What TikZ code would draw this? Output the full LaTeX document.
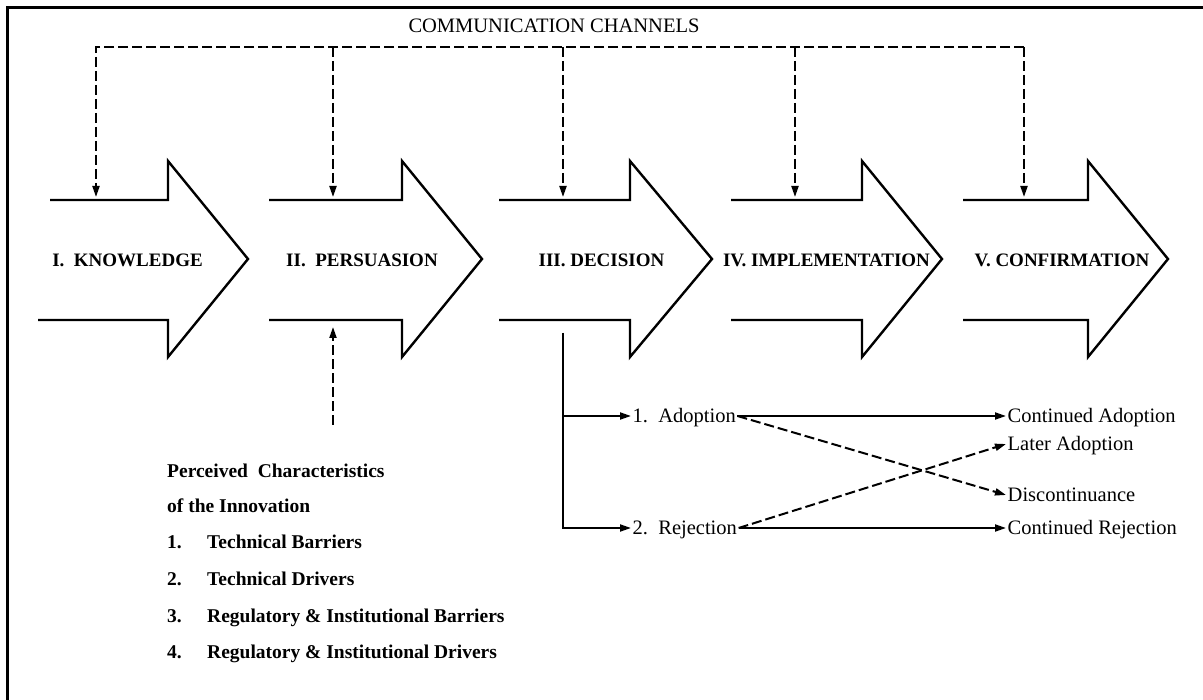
\documentclass[tikz,border=0pt]{standalone}
\usepackage{fontspec}
\setmainfont{Liberation Serif}
\usetikzlibrary{arrows.meta}
\begin{document}
\begin{tikzpicture}[x=1pt,y=-1pt,
  stage/.style={draw=black,line width=2.4pt,line join=miter},
  stagelbl/.style={font=\fontsize{19}{21}\selectfont\bfseries,inner sep=0pt,anchor=base},
  tip/.style={-{Triangle[length=11pt,width=7pt]}},
  chan/.style={line width=2pt,dash pattern=on 10pt off 4pt},
  solidcon/.style={line width=2pt,tip},
  dashcon/.style={line width=2pt,dash pattern=on 10pt off 4pt,tip},
  outc/.style={font=\fontsize{20.5}{22}\selectfont,text height=14pt,text depth=0pt,inner sep=1.5pt,anchor=west},
  listtxt/.style={font=\fontsize{19.5}{22}\selectfont\bfseries,inner sep=0pt,anchor=base west},
]
\useasboundingbox (0,0) rectangle (1203,700);
% frame
\draw[line width=3pt] (7.5,700) -- (7.5,7.5) -- (1203,7.5);

% title
\node[font=\fontsize{20.5}{22}\selectfont,inner sep=0pt,anchor=base] (title) at (554,33) {COMMUNICATION CHANNELS};

% stage arrows
\foreach \s/\sb/\b/\t/\n/\cx in {50/38/168/248/1/96, 269/269/402/482/2/333, 499/499/630/712/3/563, 731/731/862/942/4/795, 963/963/1088/1168/5/1024}{
  \draw[stage] (\s,200) -- (\b,200) -- (\b,161) -- (\t,259) -- (\b,357) -- (\b,320) -- (\sb,320);
  \coordinate (c\n) at (\cx,47);
  \coordinate (t\n) at (\cx,197);
}

% stage labels
\node[stagelbl] (k1) at (127.5,267) {I.\ \ KNOWLEDGE};
\node[stagelbl] (p2) at (362,267) {II.\ \ PERSUASION};
\node[stagelbl] (d3) at (601.5,267) {III. DECISION};
\node[stagelbl] (i4) at (826.5,267) {IV. IMPLEMENTATION};
\node[stagelbl] (c5l) at (1062,267) {V. CONFIRMATION};

% communication channels
\draw[chan,tip] (c5) -- (c1) -- (t1);
\draw[chan,tip] (c2) -- (t2);
\draw[chan,tip] (c3) -- (t3);
\draw[chan,tip] (c4) -- (t4);
\draw[chan,tip] (c5) -- (t5);

% perceived characteristics
\coordinate (pbot) at (333,425);
\coordinate (ptop) at (333,327);
\draw[dashcon] (pbot) -- (ptop);

\node[listtxt] (l0) at (167,478) {Perceived\ \ Characteristics};
\node[listtxt] (l1) at (167,513) {of the Innovation};
\node[listtxt] (n1) at (167,548) {1.};
\node[listtxt] (l2) at (207,548) {Technical Barriers};
\node[listtxt] (n2) at (167,585) {2.};
\node[listtxt] (l3) at (207,585) {Technical Drivers};
\node[listtxt] (n3) at (167,622) {3.};
\node[listtxt] (l4) at (207,622) {Regulatory \& Institutional Barriers};
\node[listtxt] (n4) at (167,658) {4.};
\node[listtxt] (l5) at (207,658) {Regulatory \& Institutional Drivers};

% decision outcomes
\node[outc] (adopt) at (631,416) {1.\enspace Adoption};
\node[outc] (rej) at (631,528) {2.\enspace Rejection};
\node[outc] (ca) at (1006,416) {Continued Adoption};
\node[outc] (la) at (1006,444) {Later Adoption};
\node[outc] (dis) at (1006,495) {Discontinuance};
\node[outc] (cr) at (1006,528) {Continued Rejection};

\coordinate (dtop) at (563,333);
\draw[solidcon] (dtop) |- (adopt.west);
\draw[solidcon] (dtop) |- (rej.west);

\draw[solidcon] (adopt.east) -- (ca.west);
\draw[dashcon] (adopt.east) -- (dis.west);
\draw[dashcon] (rej.east) -- (la.west);
\draw[solidcon] (rej.east) -- (cr.west);
\end{tikzpicture}
\end{document}
